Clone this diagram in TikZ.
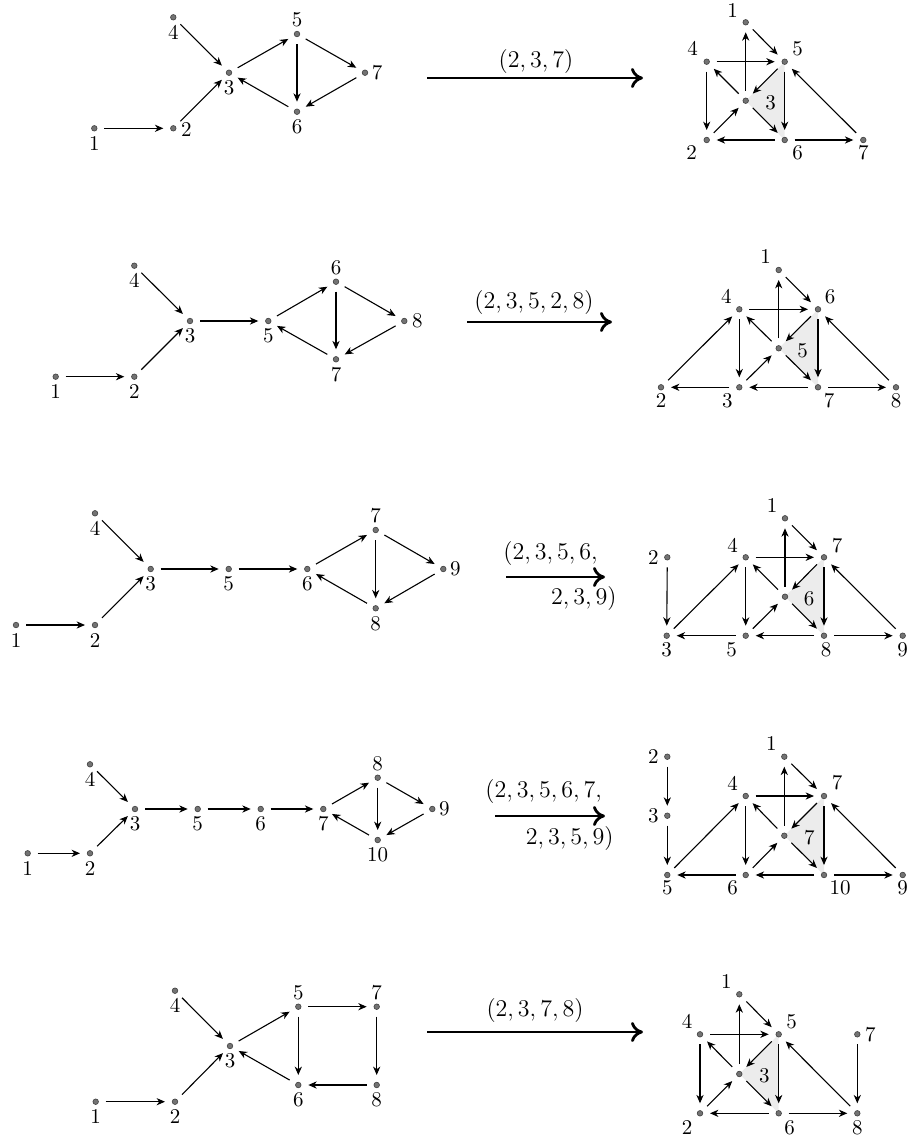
\documentclass[tikz,border=0pt]{standalone}
\usetikzlibrary{arrows.meta,backgrounds}
\tikzset{
  dot/.style={circle,fill=black!55,draw=black!75,line width=0.3pt,inner sep=0pt,minimum size=2.8pt,outer sep=0pt},
  lbl/.style={inner sep=0pt,font=\fontsize{10.5}{12}\selectfont},
  edge/.style={-{Stealth[length=4.2pt,width=3.6pt,inset=1.3pt]},line width=0.55pt,shorten >=3.6pt,shorten <=3.6pt},
  big/.style={-{To[length=6pt,width=10pt]},line width=1.4pt},
  biglbl/.style={inner sep=0pt,font=\fontsize{13}{15.6}\selectfont},
  tri/.style={fill=gray!15}
}
\newcommand\vtx[6]{\node[dot,label={[lbl,xshift=(#5)*0.5pt,yshift=(#6)*(-0.5pt)]center:#4}] (#1) at (#2,#3) {};}
\begin{document}
\begin{tikzpicture}[x=0.5pt,y=-0.5pt]
\useasboundingbox (0,0) rectangle (907,1141);
% ---------- Row 1 left
\vtx{a1}{94.3}{128.3}{1}{0}{15}
\vtx{a2}{173.3}{128.3}{2}{13}{1}
\vtx{a3}{229}{72.7}{3}{0}{15}
\vtx{a4}{173.3}{17.3}{4}{0}{15}
\vtx{a5}{297}{34}{5}{0}{-14}
\vtx{a6}{297}{111.7}{6}{0}{15}
\vtx{a7}{365}{72.7}{7}{12}{0}
\foreach \s/\t in {a1/a2,a2/a3,a4/a3,a3/a5,a5/a7,a5/a6,a7/a6,a6/a3} \draw[edge] (\s) -- (\t);
% arrow 1
\coordinate (A1s) at (427,78); \coordinate (A1e) at (643,78);
\draw[big] (A1s) -- (A1e);
\node[biglbl] (A1l) at (536,61) {$(2,3,7)$};
% ---------- Row 1 right
\vtx{b1}{745.7}{22.3}{1}{-13}{-12}
\vtx{b4}{706.7}{61.7}{4}{-14}{-13}
\vtx{b5}{784.7}{61.7}{5}{13}{-13}
\vtx{b3}{745.7}{100.7}{3}{25}{2}
\vtx{b2}{706.7}{140}{2}{-15}{13}
\vtx{b6}{784.7}{140}{6}{13}{13}
\vtx{b7}{863.3}{140}{7}{0}{13}
\begin{scope}[on background layer]\fill[tri] (b3.center)--(b5.center)--(b6.center)--cycle;\end{scope}
\foreach \s/\t in {b1/b5,b4/b5,b4/b2,b3/b1,b3/b4,b5/b3,b5/b6,b3/b6,b2/b3,b6/b2,b6/b7,b7/b5} \draw[edge] (\s) -- (\t);
% ---------- Row 2 left
\vtx{c1}{55.7}{376.7}{1}{0}{15}
\vtx{c2}{134.3}{376.7}{2}{0}{15}
\vtx{c3}{190}{321}{3}{0}{15}
\vtx{c4}{134.3}{265.7}{4}{0}{15}
\vtx{c5}{268.3}{321}{5}{0}{15}
\vtx{c6}{336}{281.7}{6}{0}{-14}
\vtx{c7}{336}{359.3}{7}{0}{15}
\vtx{c8}{404.3}{321}{8}{13}{0}
\foreach \s/\t in {c1/c2,c2/c3,c4/c3,c3/c5,c5/c6,c6/c8,c6/c7,c8/c7,c7/c5} \draw[edge] (\s) -- (\t);
\coordinate (A2s) at (467,322); \coordinate (A2e) at (612,322);
\draw[big] (A2s) -- (A2e);
\node[biglbl] (A2l) at (534,302) {$(2,3,5,2,8)$};
% ---------- Row 2 right
\vtx{d1}{778.7}{270}{1}{-13}{-13}
\vtx{d4}{739.3}{309.3}{4}{-13}{-13}
\vtx{d6}{818}{309.3}{6}{12}{-13}
\vtx{d5}{778.7}{348.3}{5}{24}{2}
\vtx{d2}{661}{387.3}{2}{0}{13}
\vtx{d3}{739.3}{387.3}{3}{-12}{13}
\vtx{d7}{818}{387.3}{7}{11}{13}
\vtx{d8}{896}{387.3}{8}{0}{13}
\begin{scope}[on background layer]\fill[tri] (d5.center)--(d6.center)--(d7.center)--cycle;\end{scope}
\foreach \s/\t in {d1/d6,d4/d6,d5/d1,d5/d4,d6/d5,d6/d7,d5/d7,d3/d5,d4/d3,d2/d4,d3/d2,d7/d3,d7/d8,d8/d6} \draw[edge] (\s) -- (\t);
% ---------- Row 3 left
\vtx{e1}{16}{625}{1}{0}{15}
\vtx{e2}{95}{625}{2}{0}{15}
\vtx{e3}{150.7}{569}{3}{0}{15}
\vtx{e4}{95}{513.3}{4}{0}{15}
\vtx{e5}{228.7}{569}{5}{0}{15}
\vtx{e6}{307.3}{569}{6}{0}{15}
\vtx{e7}{375.7}{530}{7}{0}{-14}
\vtx{e8}{375.7}{608.3}{8}{0}{15}
\vtx{e9}{443.3}{569}{9}{12}{0}
\foreach \s/\t in {e1/e2,e2/e3,e4/e3,e3/e5,e5/e6,e6/e7,e7/e9,e7/e8,e9/e8,e8/e6} \draw[edge] (\s) -- (\t);
\coordinate (A3s) at (506,577); \coordinate (A3e) at (605,577);
\draw[big] (A3s) -- (A3e);
\node[biglbl,anchor=west] (A3a) at (503,553) {$(2,3,5,6,$};
\node[biglbl,anchor=east] (A3b) at (617,598) {$2,3,9)$};
% ---------- Row 3 right
\vtx{f1}{785}{518.3}{1}{-13}{-13}
\vtx{f4}{745.7}{557.3}{4}{-13}{-12}
\vtx{f7}{824}{557.3}{7}{13}{-12}
\vtx{f2}{667.3}{557.3}{2}{-14}{0}
\vtx{f6}{785}{596.7}{6}{24}{2}
\vtx{f3}{666.7}{635.7}{3}{0}{14}
\vtx{f5}{745.7}{635.7}{5}{-14}{14}
\vtx{f8}{824}{635.7}{8}{2}{14}
\vtx{f9}{902.7}{635.7}{9}{0}{14}
\begin{scope}[on background layer]\fill[tri] (f6.center)--(f7.center)--(f8.center)--cycle;\end{scope}
\foreach \s/\t in {f2/f3,f3/f4,f5/f3,f4/f5,f5/f6,f6/f4,f6/f1,f1/f7,f4/f7,f7/f6,f7/f8,f6/f8,f8/f5,f8/f9,f9/f7} \draw[edge] (\s) -- (\t);
% ---------- Row 4 left
\vtx{g1}{27.7}{853.3}{1}{0}{15}
\vtx{g2}{90}{853.3}{2}{0}{15}
\vtx{g3}{135}{809}{3}{0}{15}
\vtx{g4}{90}{764.3}{4}{0}{15}
\vtx{g5}{197.7}{809}{5}{0}{15}
\vtx{g6}{260.7}{809}{6}{0}{15}
\vtx{g7}{323.3}{809}{7}{0}{15}
\vtx{g8}{377.7}{777.7}{8}{0}{-14}
\vtx{g9}{432.3}{809}{9}{12}{0}
\vtx{g10}{377.7}{840}{10}{0}{15}
\foreach \s/\t in {g1/g2,g2/g3,g4/g3,g3/g5,g5/g6,g6/g7,g7/g8,g8/g9,g8/g10,g9/g10,g10/g7} \draw[edge] (\s) -- (\t);
\coordinate (A4s) at (495,816); \coordinate (A4e) at (605,816);
\draw[big] (A4s) -- (A4e);
\node[biglbl,anchor=west] (A4a) at (485,791.7) {$(2,3,5,6,7,$};
\node[biglbl,anchor=east] (A4b) at (614,838) {$2,3,5,9)$};
% ---------- Row 4 right
\vtx{h2}{667.3}{756.7}{2}{-14}{0}
\vtx{h1}{784.3}{756.7}{1}{-13}{-13}
\vtx{h4}{745.7}{796}{4}{-13}{-13}
\vtx{h7}{824}{796}{7}{13}{-13}
\vtx{h3}{667.3}{815.7}{3}{-14}{0}
\vtx{h7m}{784.3}{835.7}{7}{25}{2}
\vtx{h5}{667.3}{875}{5}{0}{13}
\vtx{h6}{745.7}{875}{6}{-13}{13}
\vtx{h10}{824}{875}{10}{16}{13}
\vtx{h9}{902.7}{875}{9}{0}{13}
\begin{scope}[on background layer]\fill[tri] (h7m.center)--(h7.center)--(h10.center)--cycle;\end{scope}
\foreach \s/\t in {h2/h3,h3/h5,h5/h4,h6/h5,h4/h6,h6/h7m,h7m/h4,h7m/h1,h1/h7,h4/h7,h7/h7m,h7/h10,h7m/h10,h10/h6,h10/h9,h9/h7} \draw[edge] (\s) -- (\t);
% ---------- Row 5 left
\vtx{i1}{95.7}{1101.7}{1}{0}{15}
\vtx{i2}{175}{1101.7}{2}{0}{15}
\vtx{i3}{230}{1046}{3}{0}{15}
\vtx{i4}{175}{990.7}{4}{0}{15}
\vtx{i5}{298.3}{1006.7}{5}{0}{-14}
\vtx{i6}{298.3}{1085}{6}{0}{15}
\vtx{i7}{376.7}{1006.7}{7}{0}{-14}
\vtx{i8}{376.7}{1085}{8}{0}{15}
\foreach \s/\t in {i1/i2,i2/i3,i4/i3,i3/i5,i5/i7,i5/i6,i7/i8,i8/i6,i6/i3} \draw[edge] (\s) -- (\t);
\coordinate (A5s) at (427,1032); \coordinate (A5e) at (643,1032);
\draw[big] (A5s) -- (A5e);
\node[biglbl] (A5l) at (535,1010) {$(2,3,7,8)$};
% ---------- Row 5 right
\vtx{j1}{739.3}{994.3}{1}{-13}{-13}
\vtx{j4}{700}{1034.3}{4}{-13}{-13}
\vtx{j5}{778.7}{1034.3}{5}{13}{-13}
\vtx{j7}{857.3}{1034.3}{7}{13}{0}
\vtx{j3}{739.3}{1074}{3}{25}{2}
\vtx{j2}{700}{1113.3}{2}{-13}{14}
\vtx{j6}{778.7}{1113.3}{6}{11}{14}
\vtx{j8}{857.3}{1113.3}{8}{0}{14}
\begin{scope}[on background layer]\fill[tri] (j3.center)--(j5.center)--(j6.center)--cycle;\end{scope}
\foreach \s/\t in {j1/j5,j4/j5,j4/j2,j3/j1,j3/j4,j5/j3,j5/j6,j3/j6,j2/j3,j6/j2,j6/j8,j7/j8,j8/j5} \draw[edge] (\s) -- (\t);
\end{tikzpicture}
\end{document}
